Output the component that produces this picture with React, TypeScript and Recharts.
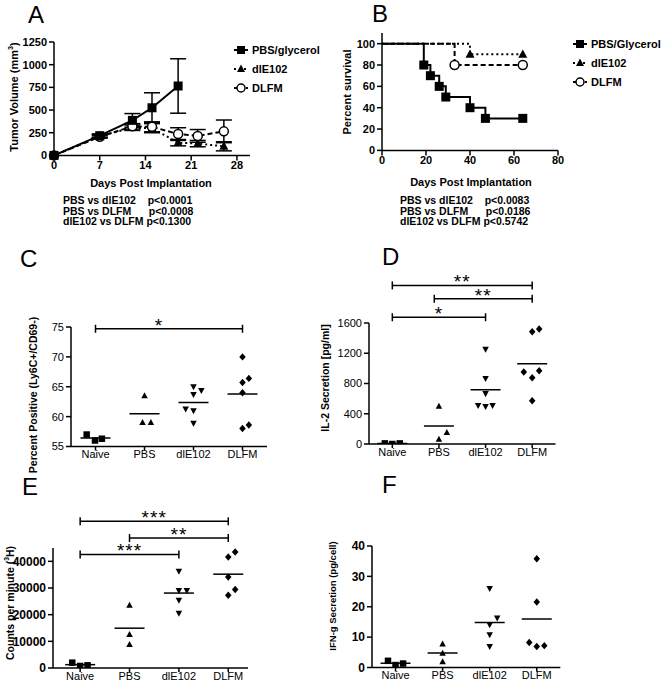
import React from "react";
import {
  ComposedChart,
  LineChart,
  ScatterChart,
  Line,
  Scatter,
  XAxis,
  YAxis,
  ErrorBar,
  ReferenceLine,
} from "recharts";

const FONT = '"Liberation Sans", Arial, Helvetica, sans-serif';
const INK = "#000";

// A - tumour volume (mm3) vs days post implantation
const tumorDaysPbs = [0, 7, 12, 15, 19];
const tumorPbs = [0, 217, 386, 525, 765];
const tumorPbsErr = [0, 20, 75, 165, 300];
const tumorDaysVirus = [0, 7, 12, 15, 19, 22, 26];
const tumorDle102 = [0, 215, 305, 300, 140, 130, 100];
const tumorDle102Err = [0, 15, 30, 50, 35, 35, 50];
const tumorDlfm = [0, 205, 320, 315, 235, 215, 265];
const tumorDlfmErr = [0, 15, 30, 55, 70, 70, 125];
const tumorXTicks = [0, 7, 14, 21, 28];
const tumorYTicks = [0, 250, 500, 750, 1000, 1250];

// B - Kaplan-Meier survival
const survDaysPbs = [0, 19, 22, 26, 29, 40, 47, 64];
const survPbs = [100, 80, 70, 60, 50, 40, 30, 30];
const survDaysDle102 = [0, 40, 64];
const survDle102 = [100, 90, 90];
const survDaysDlfm = [0, 33, 64];
const survDlfm = [100, 80, 80];
const survXTicks = [0, 20, 40, 60, 80];
const survYTicks = [0, 20, 40, 60, 80, 100];

// C-F - per animal values, one list per group
const groups = ["Naive", "PBS", "dlE102", "DLFM"];
const groupMarkers = ["square", "triangle", "down", "diamond"];

const ly6cPositive = [
  [57.0, 56.0, 56.3],
  [63.5, 59.0, 59.0],
  [65.0, 64.4, 63.7, 61.3, 61.0, 58.9],
  [70.0, 66.4, 65.7, 64.0, 58.6, 58.0],
];
const ly6cSpread = [
  [-0.18, -0.01, 0.13],
  [0, -0.04, 0.13],
  [0, 0.16, 0, -0.16, 0, 0],
  [0, 0.13, 0, 0, 0.13, 0],
];

const il2Secretion = [
  [8, 0, 8],
  [497, 151, 62],
  [1253, 867, 667, 511, 497, 511],
  [1484, 1520, 951, 969, 876, 573],
];
const il2Spread = [
  [-0.16, 0, 0.16],
  [0, 0.17, 0],
  [0, 0, 0, -0.16, 0, 0.15],
  [0, 0.15, -0.18, 0.15, 0, 0],
];

const countsPerMinute = [
  [2000, 750, 1000],
  [23500, 12500, 8800],
  [36300, 29100, 29100, 25400, 20600],
  [43500, 41600, 34100, 29400, 27300],
];
const cpmSpread = [
  [-0.16, 0, 0.15],
  [0, 0, 0],
  [0, 0, 0.16, 0, 0],
  [0.14, 0, 0, 0.14, 0],
];

const ifngSecretion = [
  [2.2, 0.8, 1.3],
  [7.7, 4.7, 1.9],
  [26.0, 16.3, 14.1, 10.8, 6.9],
  [35.8, 21.6, 8.2, 6.9, 7.2],
];
const ifngSpread = [
  [-0.16, 0, 0.16],
  [0, 0, 0],
  [0, 0.16, 0, 0, 0],
  [0, 0, -0.16, 0, 0.16],
];

// significance brackets: group index from/to (1-based), height in data units
const ly6cBrackets = [{ from: 1, to: 4, y: 74.7, stars: "*", shift: -10 }];
const il2Brackets = [
  { from: 1, to: 4, y: 2097, stars: "**", shift: 0 },
  { from: 1.9, to: 4, y: 1920, stars: "**", shift: 0 },
  { from: 1, to: 3, y: 1676, stars: "*", shift: 0 },
];
const cpmBrackets = [
  { from: 1, to: 4, y: 55000, stars: "***", shift: 0 },
  { from: 2, to: 4, y: 48750, stars: "**", shift: 0 },
  { from: 1, to: 3, y: 42600, stars: "***", shift: 0 },
];

const axisStyle = { stroke: INK, strokeWidth: 1.5 };

function box(plot, yw, xh, mt, mr) {
  return {
    left: plot.x - yw,
    top: plot.y - mt,
    width: yw + plot.w + mr,
    height: mt + plot.h + xh,
    margin: { top: mt, right: mr, bottom: 0, left: 0 },
  };
}

function Marker({ kind, cx, cy, s }) {
  const h = s / 2;
  if (kind === "circle")
    return <circle cx={cx} cy={cy} r={h} fill="#fff" stroke={INK} strokeWidth={1.5} />;
  if (kind === "square")
    return <rect x={cx - h} y={cy - h} width={s} height={s} fill={INK} />;
  let d = "";
  if (kind === "triangle")
    d = `M${cx},${cy - h * 1.1}L${cx + h},${cy + h * 0.75}L${cx - h},${cy + h * 0.75}Z`;
  if (kind === "down")
    d = `M${cx},${cy + h * 1.1}L${cx + h},${cy - h * 0.75}L${cx - h},${cy - h * 0.75}Z`;
  if (kind === "diamond")
    d = `M${cx},${cy - h * 1.15}L${cx + h},${cy}L${cx},${cy + h * 1.15}L${cx - h},${cy}Z`;
  return <path d={d} fill={INK} />;
}

const tickFont = (size, bold) => ({
  fill: INK,
  fontSize: size,
  fontFamily: FONT,
  fontWeight: bold ? 700 : 400,
});

function TumorPanel() {
  const g = box({ x: 54, y: 42.3, w: 196, h: 113.4 }, 45, 22, 10, 8);
  const pbs = tumorDaysPbs.map((d, i) => ({ day: d, vol: tumorPbs[i], err: tumorPbsErr[i] }));
  const dle = tumorDaysVirus.map((d, i) => ({ day: d, vol: tumorDle102[i], err: tumorDle102Err[i] }));
  const dlfm = tumorDaysVirus.map((d, i) => ({ day: d, vol: tumorDlfm[i], err: tumorDlfmErr[i] }));
  const dot = (kind, s) => (p) => <Marker key={p.index} kind={kind} cx={p.cx} cy={p.cy} s={s} />;
  return (
    <div style={{ position: "absolute", left: g.left, top: g.top }}>
      <ComposedChart width={g.width} height={g.height} margin={g.margin}>
        <XAxis
          type="number"
          dataKey="day"
          domain={[0, 30]}
          ticks={tumorXTicks}
          interval={0}
          height={22}
          tickSize={5}
          tickMargin={1}
          axisLine={axisStyle}
          tickLine={axisStyle}
          tick={tickFont(11, true)}
        />
        <YAxis
          type="number"
          domain={[0, 1250]}
          ticks={tumorYTicks}
          interval={0}
          width={45}
          tickSize={5}
          tickMargin={2}
          axisLine={axisStyle}
          tickLine={axisStyle}
          tick={tickFont(11, true)}
        />
        <Line data={dle} dataKey="vol" stroke={INK} strokeWidth={2} strokeDasharray="2 3" dot={dot("triangle", 9)} isAnimationActive={false}>
          <ErrorBar dataKey="err" width={8} stroke={INK} strokeWidth={1.5} />
        </Line>
        <Line data={dlfm} dataKey="vol" stroke={INK} strokeWidth={2} strokeDasharray="5 3" dot={dot("circle", 9)} isAnimationActive={false}>
          <ErrorBar dataKey="err" width={8} stroke={INK} strokeWidth={1.5} />
        </Line>
        <Line data={pbs} dataKey="vol" stroke={INK} strokeWidth={2} dot={dot("square", 9)} isAnimationActive={false}>
          <ErrorBar dataKey="err" width={8} stroke={INK} strokeWidth={1.5} />
        </Line>
      </ComposedChart>
    </div>
  );
}

function SurvivalPanel() {
  const g = box({ x: 382.3, y: 33.3, w: 176, h: 117.4 }, 45, 22, 10, 8);
  const pbs = survDaysPbs.map((d, i) => ({ day: d, pct: survPbs[i] }));
  const dle = survDaysDle102.map((d, i) => ({ day: d, pct: survDle102[i] }));
  const dlfm = survDaysDlfm.map((d, i) => ({ day: d, pct: survDlfm[i] }));
  // no symbol at time zero
  const dot = (kind, s) => (p) =>
    p.index === 0 ? <g key={p.index} /> : <Marker key={p.index} kind={kind} cx={p.cx} cy={p.cy} s={s} />;
  return (
    <div style={{ position: "absolute", left: g.left, top: g.top }}>
      <LineChart width={g.width} height={g.height} margin={g.margin}>
        <XAxis
          type="number"
          dataKey="day"
          domain={[0, 80]}
          ticks={survXTicks}
          interval={0}
          height={22}
          tickSize={5}
          tickMargin={1}
          axisLine={axisStyle}
          tickLine={axisStyle}
          tick={tickFont(11, true)}
        />
        <YAxis
          type="number"
          domain={[0, 110]}
          ticks={survYTicks}
          interval={0}
          width={45}
          tickSize={5}
          tickMargin={2}
          axisLine={axisStyle}
          tickLine={axisStyle}
          tick={tickFont(11, true)}
        />
        <Line data={dle} dataKey="pct" type="stepAfter" stroke={INK} strokeWidth={2} strokeDasharray="2 3" dot={dot("triangle", 9)} isAnimationActive={false} />
        <Line data={dlfm} dataKey="pct" type="stepAfter" stroke={INK} strokeWidth={2} strokeDasharray="5 3" dot={dot("circle", 9)} isAnimationActive={false} />
        <Line data={pbs} dataKey="pct" type="stepAfter" stroke={INK} strokeWidth={2} dot={dot("square", 9)} isAnimationActive={false} />
      </LineChart>
    </div>
  );
}

const bracketShape = (stars, shift) => (p) => {
  const { x1, x2, y1 } = p;
  return (
    <g>
      <line x1={x1} x2={x2} y1={y1} y2={y1} stroke={INK} strokeWidth={1.5} />
      <line x1={x1} x2={x1} y1={y1 - 4} y2={y1 + 4} stroke={INK} strokeWidth={1.5} />
      <line x1={x2} x2={x2} y1={y1 - 4} y2={y1 + 4} stroke={INK} strokeWidth={1.5} />
      <text x={(x1 + x2) / 2 + shift} y={y1 + 3} textAnchor="middle" fontSize={19} fontFamily={FONT} letterSpacing={1} fill={INK}>
        {stars}
      </text>
    </g>
  );
};

const meanShape = (p) => (
  <line x1={p.cx - 15} x2={p.cx + 15} y1={p.cy} y2={p.cy} stroke={INK} strokeWidth={1.5} />
);

function DotPanel({ plot, yw, mt, values, spread, yDomain, yTicks, brackets, yBold, yFont, xFont, xDomain }) {
  const g = box(plot, yw, 22, mt, 8);
  const points = values.map((vals, gi) => vals.map((v, i) => ({ x: gi + 1 + spread[gi][i], y: v })));
  const means = values.map((vals, gi) => ({
    x: gi + 1,
    y: vals.reduce((a, b) => a + b, 0) / vals.length,
  }));
  return (
    <div style={{ position: "absolute", left: g.left, top: g.top }}>
      <ScatterChart width={g.width} height={g.height} margin={g.margin}>
        <XAxis
          type="number"
          dataKey="x"
          domain={xDomain}
          ticks={[1, 2, 3, 4]}
          interval={0}
          allowDataOverflow
          tickFormatter={(v) => groups[Math.round(v) - 1]}
          height={22}
          tickSize={4}
          tickMargin={0}
          axisLine={axisStyle}
          tickLine={axisStyle}
          tick={tickFont(xFont, false)}
        />
        <YAxis
          type="number"
          dataKey="y"
          domain={yDomain}
          ticks={yTicks}
          interval={0}
          allowDataOverflow
          width={yw}
          tickSize={5}
          tickMargin={2}
          axisLine={axisStyle}
          tickLine={axisStyle}
          tick={tickFont(yFont, yBold)}
        />
        {brackets.map((b, i) => (
          <ReferenceLine
            key={i}
            segment={[
              { x: b.from, y: b.y },
              { x: b.to, y: b.y },
            ]}
            ifOverflow="visible"
            shape={bracketShape(b.stars, b.shift)}
          />
        ))}
        <Scatter data={means} shape={meanShape} isAnimationActive={false} />
        {points.map((pts, gi) => (
          <Scatter
            key={gi}
            data={pts}
            shape={(p) => <Marker kind={groupMarkers[gi]} cx={p.cx} cy={p.cy} s={6.5} />}
            isAnimationActive={false}
          />
        ))}
      </ScatterChart>
    </div>
  );
}

function Txt({ x, y, size = 11, bold = true, center = false, children }) {
  return (
    <div
      style={{
        position: "absolute",
        left: x,
        top: y - size * 0.85,
        fontSize: size,
        lineHeight: `${size}px`,
        fontWeight: bold ? 700 : 400,
        whiteSpace: "pre",
        transform: center ? "translateX(-50%)" : undefined,
      }}
    >
      {children}
    </div>
  );
}

function VTxt({ x, y, size = 11, children }) {
  return (
    <div
      style={{
        position: "absolute",
        left: x,
        top: y,
        fontSize: size,
        lineHeight: 1,
        fontWeight: 700,
        whiteSpace: "nowrap",
        transform: "translate(-50%, -50%) rotate(-90deg)",
      }}
    >
      {children}
    </div>
  );
}

function LegendRow({ x, y, kind, dash, label }) {
  return (
    <div style={{ position: "absolute", left: x, top: y - 6, height: 12, display: "flex", alignItems: "center" }}>
      <svg width={16} height={12} style={{ display: "block" }}>
        <line x1={1} x2={15} y1={6} y2={6} stroke={INK} strokeWidth={2} strokeDasharray={dash} />
        <Marker kind={kind} cx={8} cy={6} s={8} />
      </svg>
      <span style={{ marginLeft: 3, fontSize: 11, fontWeight: 700, lineHeight: "12px", whiteSpace: "nowrap" }}>{label}</span>
    </div>
  );
}

const sup = { fontSize: "0.65em", verticalAlign: "super", lineHeight: 0 };

export default function App() {
  return (
    <div
      style={{
        position: "absolute",
        left: 0,
        top: 0,
        width: 664,
        height: 682,
        background: "#fff",
        color: INK,
        fontFamily: FONT,
        overflow: "hidden",
      }}
    >
      <TumorPanel />
      <SurvivalPanel />
      <DotPanel
        plot={{ x: 71, y: 326.5, w: 196, h: 119.5 }}
        yw={40}
        mt={25}
        values={ly6cPositive}
        spread={ly6cSpread}
        yDomain={[55, 75]}
        yTicks={[55, 60, 65, 70, 75]}
        brackets={ly6cBrackets}
        yBold={false}
        yFont={11}
        xFont={11}
        xDomain={[0.5, 4.5]}
      />
      <DotPanel
        plot={{ x: 368.5, y: 323.3, w: 186.5, h: 121 }}
        yw={45}
        mt={60}
        values={il2Secretion}
        spread={il2Spread}
        yDomain={[0, 1600]}
        yTicks={[0, 400, 800, 1200, 1600]}
        brackets={il2Brackets}
        yBold={false}
        yFont={11}
        xFont={11}
        xDomain={[0.5, 4.5]}
      />
      <DotPanel
        plot={{ x: 53.3, y: 547.7, w: 195, h: 120 }}
        yw={50}
        mt={50}
        values={countsPerMinute}
        spread={cpmSpread}
        yDomain={[0, 45000]}
        yTicks={[0, 10000, 20000, 30000, 40000]}
        brackets={cpmBrackets}
        yBold={true}
        yFont={12}
        xFont={11}
        xDomain={[0.45, 4.4]}
      />
      <DotPanel
        plot={{ x: 371.7, y: 545.5, w: 188.3, h: 121.5 }}
        yw={45}
        mt={10}
        values={ifngSecretion}
        spread={ifngSpread}
        yDomain={[0, 40]}
        yTicks={[0, 10, 20, 30, 40]}
        brackets={[]}
        yBold={true}
        yFont={12}
        xFont={11}
        xDomain={[0.5, 4.5]}
      />

      {/* panel letters */}
      <Txt x={28} y={23} size={24} bold={false}>A</Txt>
      <Txt x={372} y={22} size={24} bold={false}>B</Txt>
      <Txt x={20} y={267} size={24} bold={false}>C</Txt>
      <Txt x={382} y={265} size={24} bold={false}>D</Txt>
      <Txt x={22} y={495} size={24} bold={false}>E</Txt>
      <Txt x={382} y={493} size={24} bold={false}>F</Txt>

      {/* legends */}
      <LegendRow x={233} y={50} kind="square" dash={undefined} label="PBS/glycerol" />
      <LegendRow x={233} y={69} kind="triangle" dash="2 3" label="dlE102" />
      <LegendRow x={233} y={88} kind="circle" dash="4 2" label="DLFM" />
      <LegendRow x={572} y={44} kind="square" dash={undefined} label="PBS/Glycerol" />
      <LegendRow x={572} y={63} kind="triangle" dash="2 3" label="dlE102" />
      <LegendRow x={572} y={82} kind="circle" dash="4 2" label="DLFM" />

      {/* axis titles */}
      <VTxt x={14} y={97}>
        Tumor Volume (mm<span style={sup}>3</span>)
      </VTxt>
      <Txt x={151} y={187} center>Days Post Implantation</Txt>
      <VTxt x={347} y={92}>Percent survival</VTxt>
      <Txt x={471} y={186} center>Days Post Implantation</Txt>
      <VTxt x={33} y={395} size={10.5}>Percent Positive (Ly6C+/CD69-)</VTxt>
      <VTxt x={325} y={378} size={10.5}>IL-2 Secretion [pg/ml]</VTxt>
      <VTxt x={10} y={603} size={10.5}>
        Counts per minute (<span style={sup}>3</span>H)
      </VTxt>
      <VTxt x={333} y={596} size={9.5}>IFN-g Secretion (pg/cell)</VTxt>

      {/* statistics */}
      <Txt x={63} y={204} size={10.5}>{"PBS vs dlE102    p<0.0001"}</Txt>
      <Txt x={63} y={214.5} size={10.5}>{"PBS vs DLFM      p<0.0008"}</Txt>
      <Txt x={63} y={225} size={10.5}>{"dlE102 vs DLFM p<0.1300"}</Txt>
      <Txt x={400} y={204} size={10.5}>{"PBS vs dlE102    p<0.0083"}</Txt>
      <Txt x={400} y={214.5} size={10.5}>{"PBS vs DLFM      p<0.0186"}</Txt>
      <Txt x={400} y={225} size={10.5}>{"dlE102 vs DLFM p<0.5742"}</Txt>
    </div>
  );
}
